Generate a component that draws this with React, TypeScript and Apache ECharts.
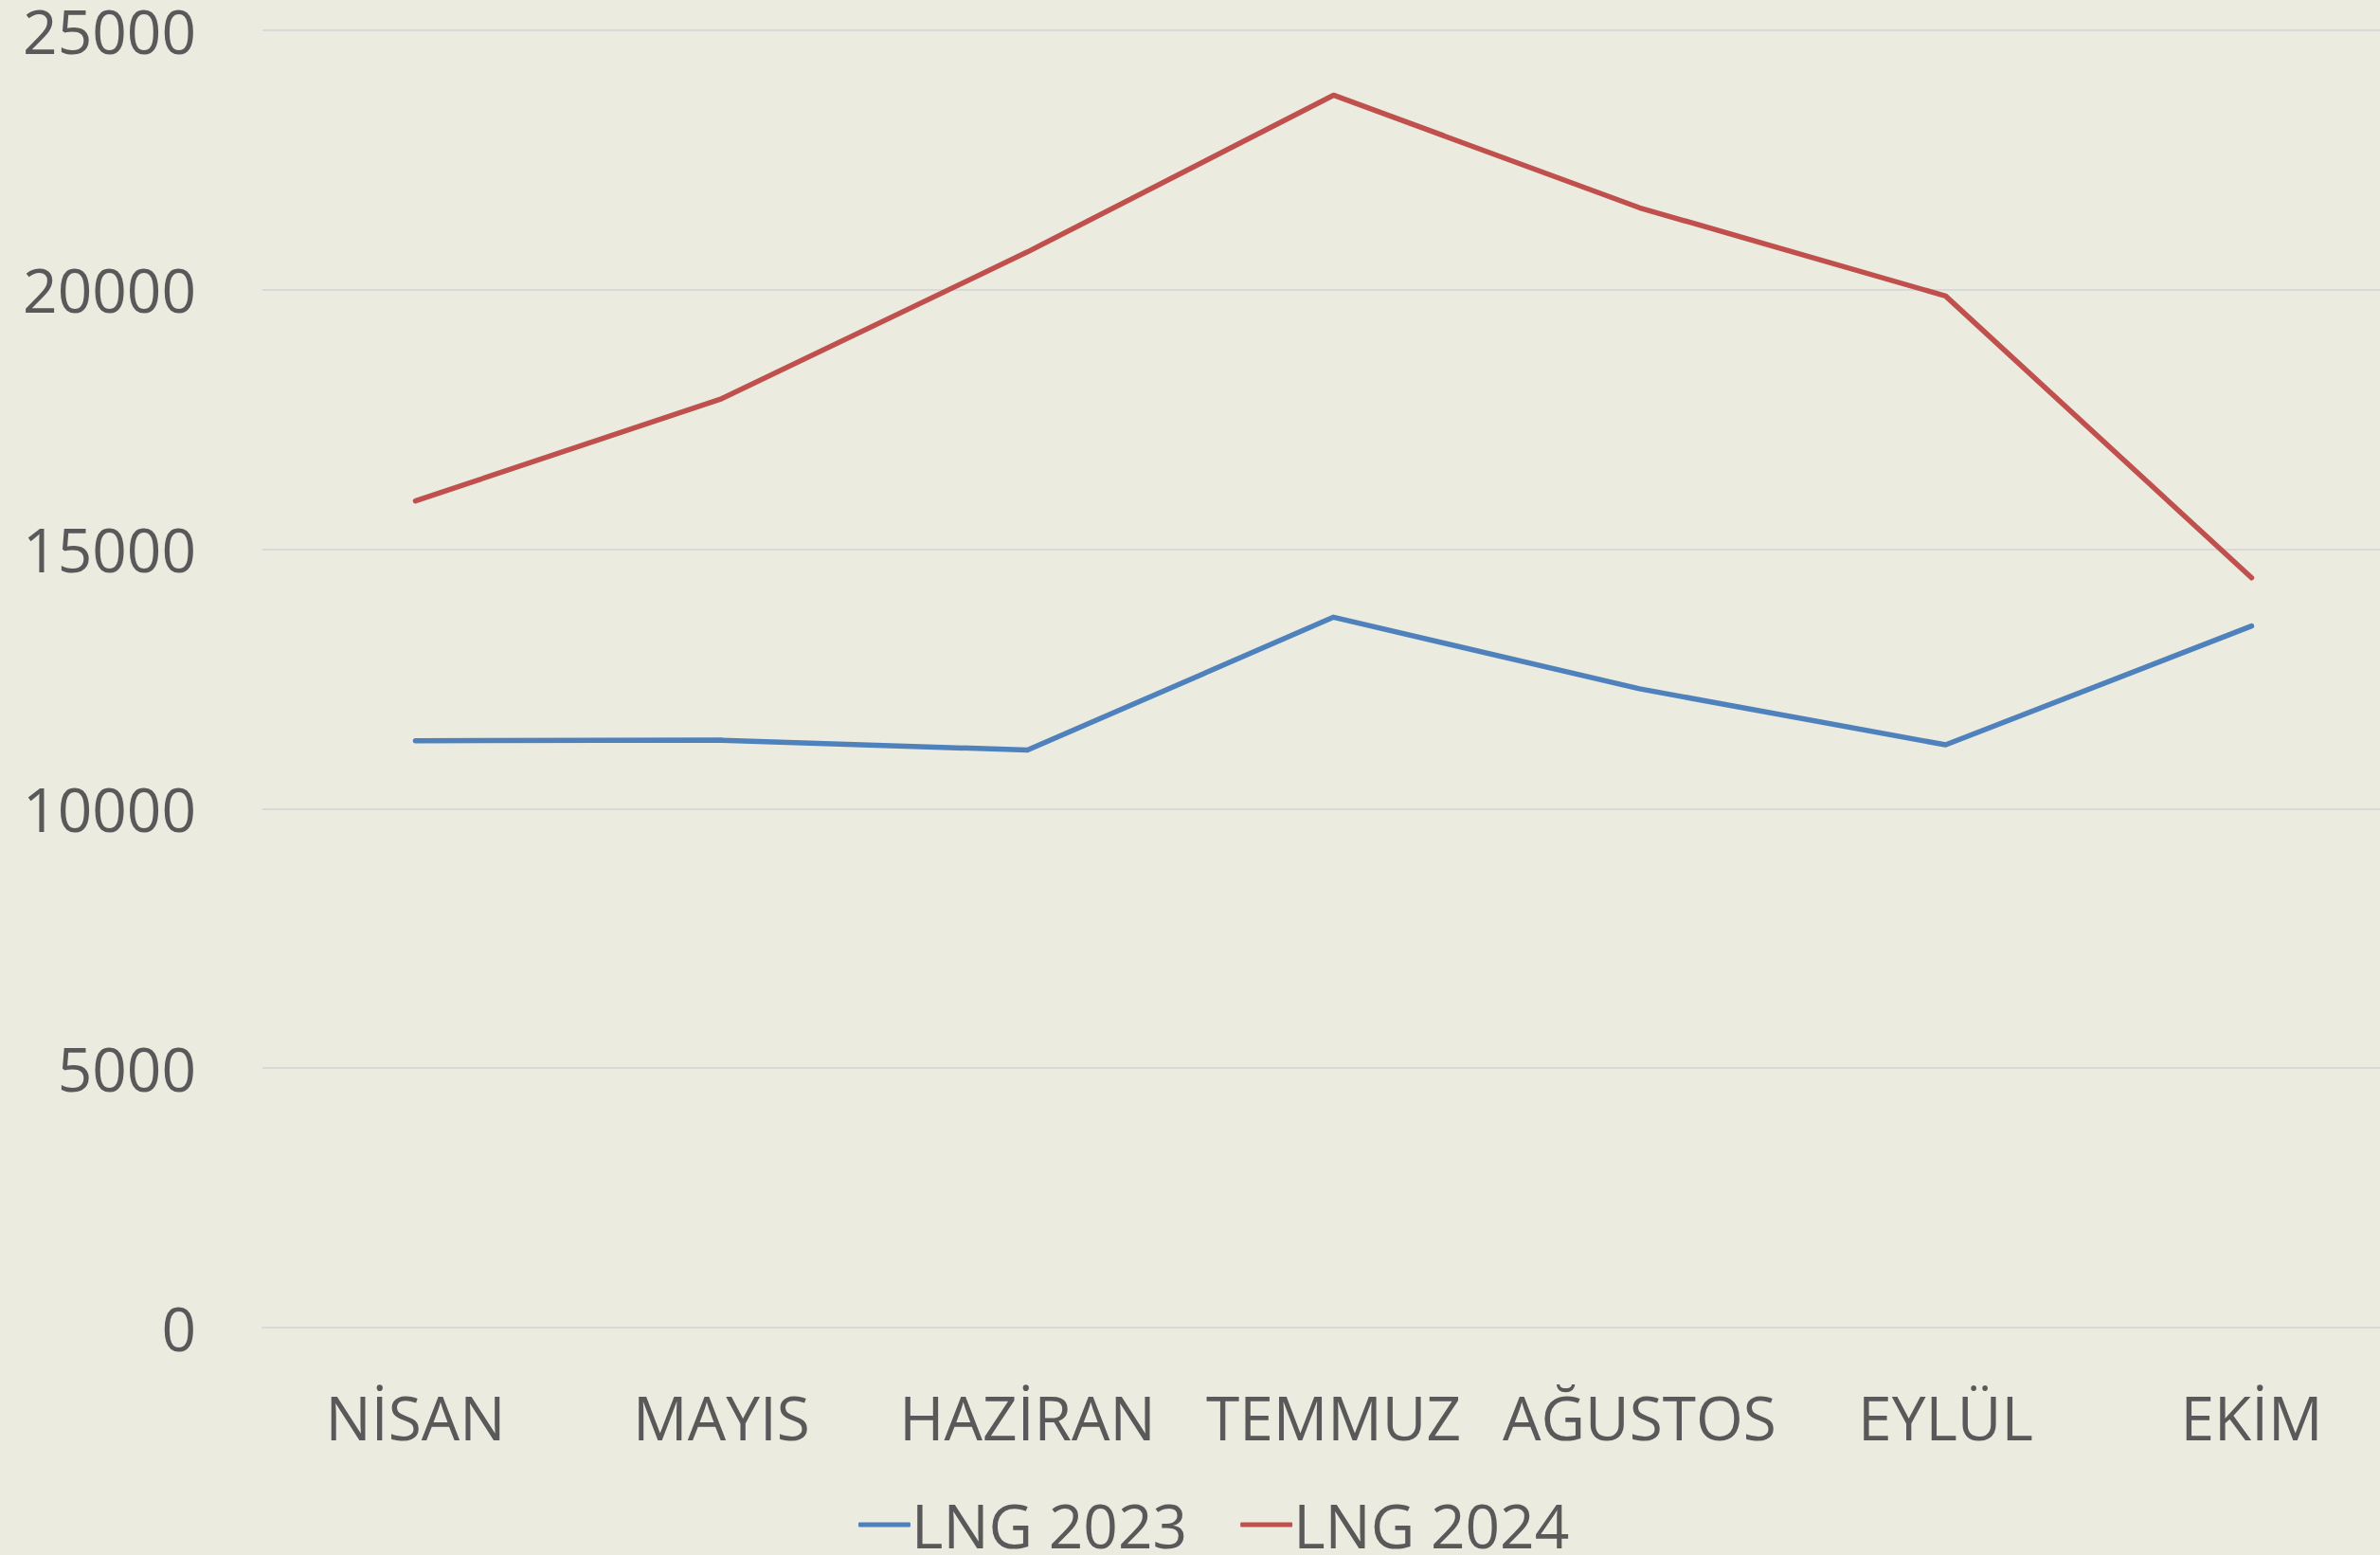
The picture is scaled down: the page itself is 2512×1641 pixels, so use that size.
import React, { useEffect, useRef } from "react";
import * as echarts from "echarts";

const categories = ["NİSAN", "MAYIS", "HAZİRAN", "TEMMUZ", "AĞUSTOS", "EYLÜL", "EKİM"];
const lng2023 = [11310, 11320, 11130, 13690, 12310, 11230, 13520];
const lng2024 = [15930, 17900, 20730, 23750, 21580, 19880, 14450];
const yTicks = { min: 0, max: 25000, interval: 5000 };

const FONT = "'Open Sans', 'Noto Sans', sans-serif";
const TEXT = "#595959";
const BG = "#ECEBE0";

export default function App() {
  const ref = useRef<HTMLDivElement>(null);
  useEffect(() => {
    document.body.style.margin = "0";
    document.body.style.overflow = "hidden";
    document.body.style.background = BG;
    if (!ref.current) return;
    const chart = echarts.init(ref.current, undefined, { renderer: "svg" });
    chart.setOption({
      animation: false,
      backgroundColor: BG,
      textStyle: { fontFamily: FONT },
      grid: { left: 277, right: 0, top: 31, bottom: 240, containLabel: false },
      legend: {
        left: 901,
        top: 1572,
        itemWidth: 55,
        itemHeight: 5,
        itemGap: 56,
        icon: "roundRect",
        textStyle: { color: TEXT, fontSize: 64, lineHeight: 56, fontFamily: FONT, padding: [0, 0, 0, -4] },
        data: ["LNG 2023", "LNG 2024"],
      },
      xAxis: {
        type: "category",
        data: categories,
        boundaryGap: true,
        axisLine: { show: true, lineStyle: { color: "#D9D9D9", width: 2 } },
        axisTick: { show: false },
        axisLabel: { color: TEXT, fontSize: 64, fontFamily: FONT, margin: 62, interval: 0 },
      },
      yAxis: {
        type: "value",
        min: yTicks.min,
        max: yTicks.max,
        interval: yTicks.interval,
        axisLine: { show: false },
        axisTick: { show: false },
        splitLine: { lineStyle: { color: "#D9D9D9", width: 2 } },
        axisLabel: {
          color: TEXT,
          fontSize: 64,
          lineHeight: 56,
          fontFamily: FONT,
          margin: 70,
          formatter: (v: number) => String(v),
        },
      },
      series: [
        {
          name: "LNG 2023",
          type: "line",
          data: lng2023,
          symbol: "none",
          color: "#4F81BD",
          lineStyle: { color: "#4F81BD", width: 5.5, cap: "round", join: "round" },
        },
        {
          name: "LNG 2024",
          type: "line",
          data: lng2024,
          symbol: "none",
          color: "#C0504D",
          lineStyle: { color: "#C0504D", width: 5.5, cap: "round", join: "round" },
        },
      ],
    });
    return () => chart.dispose();
  }, []);
  return (
    <div
      ref={ref}
      style={{ position: "fixed", left: 0, top: 0, width: 2538, height: 1641, background: BG }}
    />
  );
}
